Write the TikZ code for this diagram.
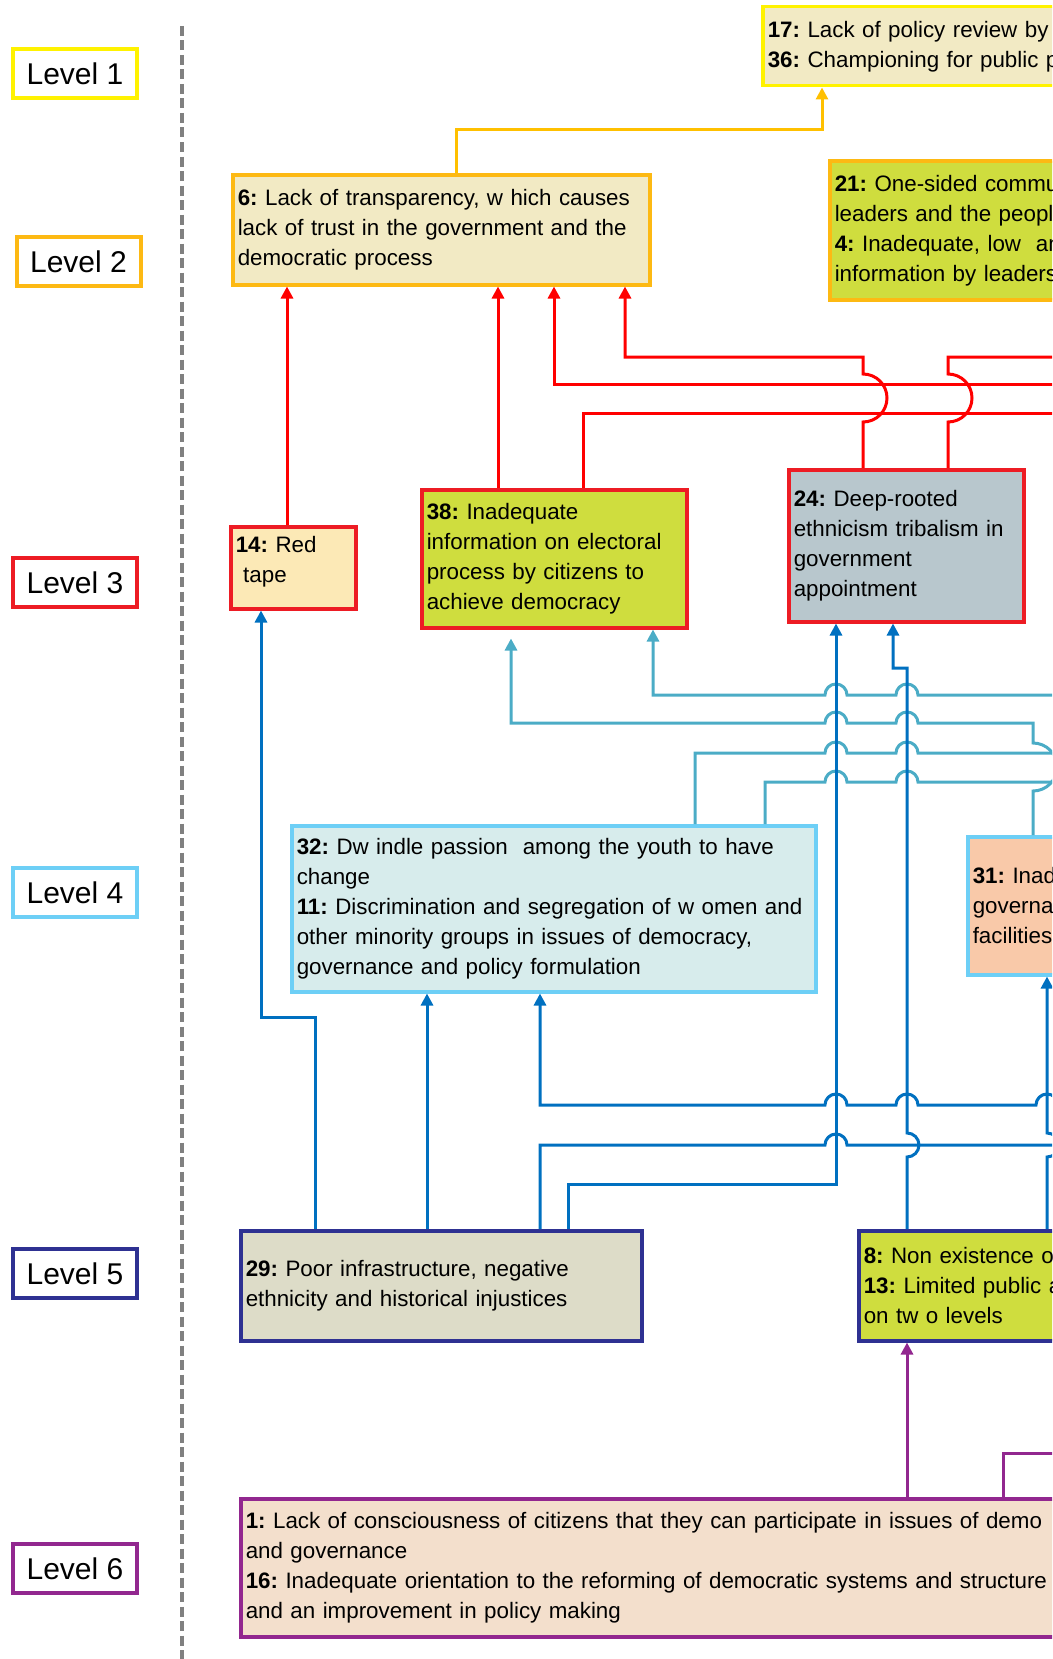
\documentclass[tikz,border=0pt]{standalone}
\usepackage{fontspec}
\setmainfont{Liberation Sans}
\frenchspacing
\usetikzlibrary{arrows.meta}

\definecolor{cyellow}{HTML}{FFF200}
\definecolor{corange}{HTML}{FDB913}
\definecolor{cred}{HTML}{ED1C24}
\definecolor{cltblue}{HTML}{6DCFF6}
\definecolor{cdkblue}{HTML}{2E3192}
\definecolor{cpurple}{HTML}{92278F}
\definecolor{lorange}{HTML}{FFC000}
\definecolor{lred}{HTML}{FF0000}
\definecolor{lblue}{HTML}{0070C0}
\definecolor{lcyan}{HTML}{4BACC6}
\definecolor{fbeige}{HTML}{F2EAC4}
\definecolor{fgreen}{HTML}{CFDD3E}
\definecolor{fcream}{HTML}{FCE9B6}
\definecolor{fslate}{HTML}{B8C7CD}
\definecolor{faqua}{HTML}{D7ECEC}
\definecolor{fpeach}{HTML}{F9C9A9}
\definecolor{fstone}{HTML}{DDDCC8}
\definecolor{fsand}{HTML}{F3DFCC}

\tikzset{
	levelbox/.style={draw=#1, line width=4pt, minimum width=124pt, minimum height=49pt,
		inner sep=0pt, font=\fontsize{30}{36}\selectfont},
	factor/.style 2 args={draw=#1, fill=#2, line width=3.5pt, anchor=north west, align=left,
		inner xsep=5pt, inner ysep=0pt, font=\fontsize{22.35}{30}\selectfont},
	wire/.style={draw=#1, line width=3pt},
	link/.style={wire=#1, -{Triangle[width=12pt,length=12pt]}},
}

\begin{document}
\begin{tikzpicture}[x=1pt, y=-1pt]

	\useasboundingbox (0,0) rectangle (1052,1659);
	\clip (0,0) rectangle (1052,1659);

	\def\xL{836}
	\def\xR{907}
	\def\xE{1047}

	% levels
	\foreach \lv/\xx/\yy/\col in {1/75/74/cyellow, 2/78.5/261.5/corange, 3/75/582.5/cred,
		4/75/892.5/cltblue, 5/75/1273.5/cdkblue, 6/75/1568.5/cpurple}{
		\node[levelbox=\col] (lv\lv) at (\xx,\yy) {Level \lv};
	}
	\draw[gray, line width=4.5pt, dash pattern=on 10pt off 4.5pt] (182,26) -- (182,1659);

	% level 1 and 2
	\node[factor={cyellow}{fbeige}, text width=525pt, minimum height=79pt] (b17) at (761,5)
		{\textbf{17:} Lack of policy review by\\ \textbf{36:} Championing for public p};
	\node[factor={corange}{fbeige}, text width=407pt, minimum height=110pt] (b6) at (231,173)
		{\textbf{6:} Lack of transparency, w hich causes\\ lack of trust in the government and the\\ democratic process};
	\node[factor={corange}{fgreen}, text width=458pt, minimum height=139pt] (b21) at (828,159)
		{\textbf{21:} One-sided commu\\ leaders and the peopl\\ \textbf{4:} Inadequate, low\ \ an\\ information by leaders};

	% level 3
	\node[factor={cred}{fcream}, text width=115pt, minimum height=82pt] (b14) at (229,525)
		{\textbf{14:} Red\\ \ tape\rule[-16pt]{0pt}{16pt}};
	\node[factor={cred}{fgreen}, text width=255pt, minimum height=138pt] (b38) at (420,488)
		{\textbf{38:} Inadequate\\ information on electoral\\ process by citizens to\\ achieve democracy};
	\node[factor={cred}{fslate}, text width=225pt, minimum height=152pt] (b24) at (787,468)
		{\textbf{24:} Deep-rooted\\ ethnicism tribalism in\\ government\\ appointment};

	% level 4
	\node[factor={cltblue}{faqua}, text width=514pt, minimum height=166pt] (b32) at (290,824)
		{\textbf{32:} Dw indle passion\ \ among the youth to have\\ change\\
		\textbf{11:} Discrimination and segregation of w omen and\\ other minority groups in issues of democracy,\\
		governance and policy formulation};
	\node[factor={cltblue}{fpeach}, text width=320pt, minimum height=138pt] (b31) at (966,835)
		{\textbf{31:} Inad\\ governa\\ facilities};

	% level 5
	\node[factor={cdkblue}{fstone}, text width=391pt, minimum height=110pt] (b29) at (239,1229)
		{\textbf{29:} Poor infrastructure, negative\\ ethnicity and historical injustices};
	\node[factor={cdkblue}{fgreen}, text width=429pt, minimum height=110pt] (b8) at (857,1229)
		{\textbf{8:} Non existence o\\ \textbf{13:} Limited public a\\ on tw o levels};

	% level 6
	\node[factor={cpurple}{fsand}, text width=1047pt, minimum height=138pt] (b1) at (239,1497)
		{\textbf{1:} Lack of consciousness of citizens that they can participate in issues of demo\\
		and governance\\
		\textbf{16:} Inadequate orientation to the reforming of democratic systems and structure\\
		and an improvement in policy making};

	% ends that run off the right edge
	\coordinate (e1) at (1070,384);
	\coordinate (e2) at (1070,357);
	\coordinate (e3) at (1070,413);
	\coordinate (e4) at (1070,1145);
	\coordinate (e5) at (1070,1105);
	\coordinate (e6) at (1070,695);
	\coordinate (e7) at (1070,753);
	\coordinate (e8) at (1070,782);
	\coordinate (e9) at (1070,1453);

	% 2 -> 1
	\draw[link=lorange] (b6.north -| 456,0) -- (456,130) -- (822,130) -- (b17.south -| 822,0);

	% 3 -> 2
	\draw[link=lred] (b14.north -| 287,0) -- (b6.south -| 287,0);
	\draw[link=lred] (b38.north -| 498,0) -- (b6.south -| 498,0);
	\draw[link=lred] (e1) -- (554,384) -- (b6.south -| 554,0);
	\draw[link=lred] (b24.north -| 863,0) -- (863,422) arc[start angle=90, end angle=-90, radius=24]
		-- (863,357) -- (625,357) -- (b6.south -| 625,0);
	\draw[wire=lred] (b24.north -| 948,0) -- (948,422) arc[start angle=90, end angle=-90, radius=24]
		-- (948,357) -- (e2);
	\draw[wire=lred] (b38.north -| 583,0) -- (583,413) -- (e3);

	% 4 -> 3
	\draw[link=lcyan] (e6) -- ({\xR+11},695) arc[start angle=0, end angle=-180, radius=11]
		-- ({\xL+11},695) arc[start angle=0, end angle=-180, radius=11]
		-- (653,695) -- (b38.south -| 653,0);
	\draw[link=lcyan, shorten >=9pt] (b31.north -| 1033,0) -- (1033,791)
		arc[start angle=90, end angle=-90, radius=24] -- (1033,723)
		-- ({\xR+11},723) arc[start angle=0, end angle=-180, radius=11]
		-- ({\xL+11},723) arc[start angle=0, end angle=-180, radius=11]
		-- (511,723) -- (b38.south -| 511,0);
	\draw[wire=lcyan] (b32.north -| 695,0) -- (695,753)
		-- ({\xL-11},753) arc[start angle=180, end angle=360, radius=11]
		-- ({\xR-11},753) arc[start angle=180, end angle=360, radius=11] -- (e7);
	\draw[wire=lcyan] (b32.north -| 765,0) -- (765,782)
		-- ({\xL-11},782) arc[start angle=180, end angle=360, radius=11]
		-- ({\xR-11},782) arc[start angle=180, end angle=360, radius=11] -- (e8);

	% 5 -> 3, 5 -> 4
	\draw[link=lblue] (b29.north -| 315,0) -- (315,1017) -- (261,1017) -- (b14.south -| 261,0);
	\draw[link=lblue] (b29.north -| 427,0) -- (b32.south -| 427,0);
	\draw[wire=lblue] (b29.north -| 540,0) -- (540,1145)
		-- ({\xL-11},1145) arc[start angle=180, end angle=360, radius=11] -- (e4);
	\draw[link=lblue] (b29.north -| 568,0) -- (568,1184) -- (\xL,1184) -- (b24.south -| \xL,0);
	\draw[link=lblue] (e5) -- ({\xE+11},1105) arc[start angle=0, end angle=-180, radius=11]
		-- ({\xR+11},1105) arc[start angle=0, end angle=-180, radius=11]
		-- ({\xL+11},1105) arc[start angle=0, end angle=-180, radius=11]
		-- (540,1105) -- (b32.south -| 540,0);
	\draw[link=lblue] (b8.north -| \xR,0) -- (\xR,1157) arc[start angle=90, end angle=-90, radius=12]
		-- (\xR,668) -- (893,668) -- (b24.south -| 893,0);
	\draw[link=lblue] (b8.north -| \xE,0) -- (\xE,1157) arc[start angle=90, end angle=-90, radius=12]
		-- (b31.south -| \xE,0);

	% 6 -> 5
	\draw[link=cpurple] (b1.north -| \xR,0) -- (b8.south -| \xR,0);
	\draw[wire=cpurple] (b1.north -| 1003,0) -- (1003,1453) -- (e9);

\end{tikzpicture}
\end{document}
